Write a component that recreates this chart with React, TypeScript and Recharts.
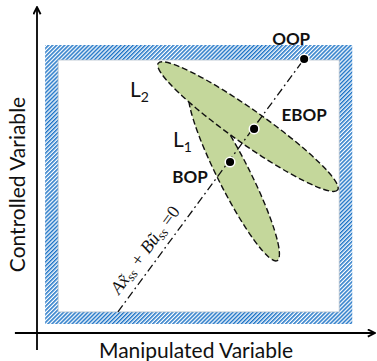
import { ScatterChart, Scatter, XAxis, YAxis, ReferenceArea, ReferenceLine } from 'recharts';

const WIDTH = 377;
const HEIGHT = 361;
const MARGIN = { top: 8, right: 2, bottom: 0, left: 0 };
const Y_AXIS_WIDTH = 37;
const X_AXIS_HEIGHT = 28;
const U_DOMAIN: [number, number] = [0, 104];
const Y_DOMAIN: [number, number] = [0, 100];
// pixels per data unit, the same on both axes so the ellipses keep their shape
const PX = (WIDTH - MARGIN.left - MARGIN.right - Y_AXIS_WIDTH) / (U_DOMAIN[1] - U_DOMAIN[0]);

// operating limits on manipulated (u) and controlled (y) variable: hatched band
const uLimitOuter = [2.5, 97];
const yLimitOuter = [2.8, 88.6];
const uLimitInner = [6.5, 93];
const yLimitInner = [6.5, 84];

// level sets L1 / L2 (center, semi axes, angle in degrees)
const regionNames = ['L1', 'L2'];
const regionU = [60.6, 64.9];
const regionY = [48.6, 63.5];
const regionSemiMajor = [29.5, 33.8];
const regionSemiMinor = [4.9, 5.2];
const regionAngle = [-63.2, -35.2];

// operating points
const pointNames = ['OOP', 'EBOP', 'BOP'];
const pointU = [82.2, 66.8, 59.4];
const pointY = [84.3, 62.8, 52.6];

// steady state line  A x + B u = 0
const ssLineU = [24.9, 82.2];
const ssLineY = [6.5, 84.3];

// axis arrows
const uAxisRange = [-6.8, 104];
const yAxisRange = [-5.2, 100.3];

const GREEN = '#c4d79b';
const HATCH_BLUE = '#1e74c6';
const SANS = "Lato, 'Open Sans', sans-serif";

const regionData = regionNames.map((name, i) => ({
  name,
  u: regionU[i],
  y: regionY[i],
  a: regionSemiMajor[i],
  b: regionSemiMinor[i],
  angle: regionAngle[i],
}));
const pointData = pointNames.map((name, i) => ({ name, u: pointU[i], y: pointY[i] }));
const lineData = ssLineU.map((u, i) => ({ u, y: ssLineY[i] }));

// equation label sits about a fifth of the way up the line
const EQ_T = 0.21;
const eqData = [
  {
    u: ssLineU[0] + EQ_T * (ssLineU[1] - ssLineU[0]),
    y: ssLineY[0] + EQ_T * (ssLineY[1] - ssLineY[0]),
  },
];
const eqAngle = (Math.atan2(-(ssLineY[1] - ssLineY[0]), ssLineU[1] - ssLineU[0]) * 180) / Math.PI;

const REGION_LABEL_OFFSET: Record<string, [number, number]> = {
  L1: [-61, -28],
  L2: [-118, -30],
};
const POINT_LABEL_OFFSET: Record<string, [number, number]> = {
  OOP: [-13, -14],
  EBOP: [50, -8],
  BOP: [-40, 21],
};

const RegionShape = (props: any) => {
  const { cx, cy, payload } = props;
  const [dx, dy] = REGION_LABEL_OFFSET[payload.name];
  return (
    <g>
      <ellipse
        cx={cx}
        cy={cy}
        rx={payload.a * PX}
        ry={payload.b * PX}
        transform={`rotate(${-payload.angle} ${cx} ${cy})`}
        fill={GREEN}
        stroke="#111"
        strokeWidth={1.4}
        strokeDasharray="6 3"
      />
      <text x={cx + dx} y={cy + dy} fontFamily={SANS} fontSize={21} fill="#111">
        {payload.name.slice(0, 1)}
        <tspan fontSize={14} dy={5}>
          {payload.name.slice(1)}
        </tspan>
      </text>
    </g>
  );
};

const PointShape = (props: any) => {
  const { cx, cy, payload } = props;
  const [dx, dy] = POINT_LABEL_OFFSET[payload.name];
  return (
    <g>
      <circle cx={cx} cy={cy} r={4.8} fill="#000" stroke="#fff" strokeWidth={1.5} />
      <text x={cx + dx} y={cy + dy} textAnchor="middle" fontFamily={SANS} fontWeight="bold" fontSize={17} fill="#111">
        {payload.name}
      </text>
    </g>
  );
};

const EqShape = (props: any) => {
  const { cx, cy } = props;
  return (
    <text
      x={cx}
      y={cy - 9}
      transform={`rotate(${eqAngle} ${cx} ${cy})`}
      textAnchor="middle"
      fontFamily="'Liberation Serif', serif"
      fontStyle="italic"
      fontSize={18}
      fill="#111"
    >
      {'Ax\u0303'}
      <tspan fontSize={13} dy={3}>ss</tspan>
      <tspan dy={-3}>{' + B\u0169'}</tspan>
      <tspan fontSize={13} dy={3}>ss</tspan>
      <tspan dy={-3} fontStyle="normal">{' =0'}</tspan>
    </text>
  );
};

const xTitle = ({ viewBox }: any) => (
  <text
    x={viewBox.x + viewBox.width / 2 - 10}
    y={viewBox.y + viewBox.height - 3}
    textAnchor="middle"
    fontFamily={SANS}
    fontSize={21}
    fill="#111"
  >
    Manipulated Variable
  </text>
);

const yTitle = ({ viewBox }: any) => {
  const x = viewBox.x + 25;
  const y = viewBox.y + viewBox.height / 2 + 14;
  return (
    <text x={x} y={y} transform={`rotate(-90 ${x} ${y})`} textAnchor="middle" fontFamily={SANS} fontSize={21} fill="#111">
      Controlled Variable
    </text>
  );
};

export default function App() {
  return (
    <div style={{ position: 'absolute', left: 0, top: 0, width: WIDTH, height: HEIGHT, background: '#fff' }}>
      <svg width={0} height={0} style={{ position: 'absolute' }}>
        <defs>
          <pattern id="hatch" patternUnits="userSpaceOnUse" width={2.85} height={2.85} patternTransform="rotate(45)">
            <rect width={2.85} height={2.85} fill="#fff" />
            <rect width={1.5} height={2.85} fill={HATCH_BLUE} />
          </pattern>
          <marker
            id="axisArrow"
            viewBox="0 0 10 10"
            refX={9}
            refY={5}
            markerWidth={9}
            markerHeight={9}
            markerUnits="userSpaceOnUse"
            orient="auto"
          >
            <path d="M1,1 L9,5 L1,9" fill="none" stroke="#000" strokeWidth={2} />
          </marker>
        </defs>
      </svg>
      <ScatterChart width={WIDTH} height={HEIGHT} margin={MARGIN}>
        <XAxis
          type="number"
          dataKey="u"
          domain={U_DOMAIN}
          height={X_AXIS_HEIGHT}
          axisLine={false}
          tickLine={false}
          tick={false}
          allowDataOverflow
          label={{ content: xTitle }}
        />
        <YAxis
          type="number"
          dataKey="y"
          domain={Y_DOMAIN}
          width={Y_AXIS_WIDTH}
          axisLine={false}
          tickLine={false}
          tick={false}
          allowDataOverflow
          label={{ content: yTitle }}
        />
        <ReferenceArea
          x1={uLimitOuter[0]}
          x2={uLimitOuter[1]}
          y1={yLimitOuter[0]}
          y2={yLimitOuter[1]}
          fill="url(#hatch)"
          fillOpacity={1}
          stroke="none"
        />
        <ReferenceArea
          x1={uLimitInner[0]}
          x2={uLimitInner[1]}
          y1={yLimitInner[0]}
          y2={yLimitInner[1]}
          fill="#fff"
          fillOpacity={1}
          stroke="#b3bfcb"
          strokeWidth={0.8}
        />
        <Scatter data={regionData} shape={RegionShape} isAnimationActive={false} />
        <Scatter
          data={lineData}
          shape={() => null}
          line={{ stroke: '#111', strokeWidth: 1.3, strokeDasharray: '8 3.5 1.8 3.5' }}
          isAnimationActive={false}
        />
        <Scatter data={eqData} shape={EqShape} isAnimationActive={false} />
        <Scatter data={pointData} shape={PointShape} isAnimationActive={false} />
        <ReferenceLine
          segment={[
            { x: uAxisRange[0], y: 0 },
            { x: uAxisRange[1], y: 0 },
          ]}
          stroke="#000"
          strokeWidth={1.8}
          markerEnd="url(#axisArrow)"
          ifOverflow="visible"
        />
        <ReferenceLine
          segment={[
            { x: 0, y: yAxisRange[0] },
            { x: 0, y: yAxisRange[1] },
          ]}
          stroke="#000"
          strokeWidth={1.8}
          markerEnd="url(#axisArrow)"
          ifOverflow="visible"
        />
      </ScatterChart>
    </div>
  );
}
